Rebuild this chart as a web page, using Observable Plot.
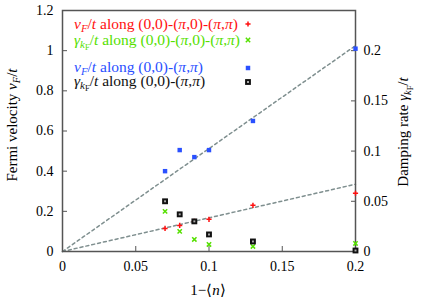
<!DOCTYPE html>
<html><head><meta charset="utf-8">
<script src="https://cdn.jsdelivr.net/npm/d3@7"></script>
<script src="https://cdn.jsdelivr.net/npm/@observablehq/plot@0.6"></script>
<style>body{margin:0;background:#fff}</style>
</head><body><div id="chart"></div>
<script>
const holes = [0.07, 0.08, 0.09, 0.10, 0.13, 0.20];
const vfDiag = [0.40, 0.505, 0.47, 0.505, 0.65, 1.01];      // blue
const vfAnti = [0.115, 0.13, 0.15, 0.16, 0.23, 0.29];       // red
const gammaAnti = [0.040, 0.020, 0.012, 0.007, 0.005, 0.008]; // green
const gammaDiag = [0.050, 0.037, 0.030, 0.017, 0.010, 0.001]; // black
const fitX = [0, 0.2];
const fitDiag = [0, 1.025];
const fitAnti = [0, 0.335];
const xTicks = [0, 0.05, 0.1, 0.15, 0.2];
const yTicks = [0, 0.2, 0.4, 0.6, 0.8, 1, 1.2];
const y2Ticks = [0, 0.05, 0.1, 0.15, 0.2];
const yMax = 1.2, y2Max = 0.24;
const k = yMax / y2Max;

const RED = "#ff1010", GREEN = "#55e000", BLUE = "#2a50ff", BLACK = "#111", GRAY = "#7f8f8f", AX = "#555";

const pts = (ys) => holes.map((x, i) => ({x, y: ys[i]}));
const line = (ys) => fitX.map((x, i) => ({x, y: ys[i]}));

const plot = Plot.plot({
  width: 425, height: 299,
  marginLeft: 62, marginRight: 70, marginTop: 10, marginBottom: 48,
  style: {fontFamily: "'Liberation Serif', 'Times New Roman', serif", fontSize: "14px", background: "#fff", color: "#000"},
  x: {domain: [0, 0.2]},
  y: {domain: [0, yMax]},
  marks: [
    Plot.line(line(fitDiag), {x: "x", y: "y", stroke: GRAY, strokeWidth: 1.5, strokeDasharray: "3,3"}),
    Plot.line(line(fitAnti), {x: "x", y: "y", stroke: GRAY, strokeWidth: 1.5, strokeDasharray: "3,3"}),
    Plot.axisX(xTicks, {tickSize: -5, tickPadding: 15, stroke: AX, fill: "#000", tickFormat: d => String(d), label: null}),
    Plot.axisY(yTicks, {anchor: "left", tickSize: -5, tickPadding: 14, stroke: AX, fill: "#000", tickFormat: d => String(d), label: null}),
    Plot.axisY(y2Ticks.map(v => v * k), {anchor: "right", tickSize: -5, tickPadding: 13, stroke: AX, fill: "#000", tickFormat: d => String(+(d / k).toFixed(3)), label: null}),
    Plot.frame({stroke: AX, strokeWidth: 1.5}),
    Plot.dot(pts(vfDiag), {x: "x", y: "y", symbol: "square", fill: BLUE, r: 2.5}),
    Plot.dot(pts(vfAnti), {x: "x", y: "y", symbol: "plus", stroke: RED, strokeWidth: 1.5, r: 1.8}),
    Plot.dot(pts(gammaAnti), {x: "x", y: d => d.y * k, symbol: "times", stroke: GREEN, strokeWidth: 1.5, r: 2.1}),
    Plot.dot(pts(gammaDiag), {x: "x", y: d => d.y * k, symbol: "square", fill: BLACK, r: 3.3}),
    Plot.dot(pts(gammaDiag), {x: "x", y: d => d.y * k, symbol: "square", fill: "#aaa", r: 1.1})
  ]
});
document.getElementById("chart").appendChild(plot);

const svg = d3.select(plot);
const FONT = "'Liberation Serif', 'Times New Roman', serif";
function rich(g, segs) {
  let cur = 0;
  for (const [t, s] of segs) {
    const off = s === "s" ? 3 : s === "ss" ? 5 : 0;
    const ts = g.append("tspan").text(t).attr("dy", off - cur);
    cur = off;
    if (s === "i" || s === "s") ts.attr("font-style", "italic");
    if (s === "s") ts.attr("font-size", "0.7em");
    if (s === "ss") ts.attr("font-size", "0.55em");
  }
}
const vF = [["v", "i"], ["F", "s"], ["/", "n"], ["t", "i"]];
const gk = [["γ", "i"], ["k", "s"], ["F", "ss"], ["/", "n"], ["t", "i"]];
const path1 = [[" along (0,0)-(", "n"], ["π", "i"], [",0)-(", "n"], ["π", "i"], [",", "n"], ["π", "i"], [")", "n"]];
const path2 = [[" along (0,0)-(", "n"], ["π", "i"], [",", "n"], ["π", "i"], [")", "n"]];
const legend = [
  {y: 29, color: RED, segs: vF.concat(path1)},
  {y: 45, color: GREEN, segs: gk.concat(path1)},
  {y: 72, color: BLUE, segs: vF.concat(path2)},
  {y: 86, color: BLACK, segs: gk.concat(path2)}
];
for (const row of legend) {
  const t = svg.append("text").attr("x", 74).attr("y", row.y).attr("fill", row.color)
    .attr("text-anchor", "start").attr("font-family", FONT).attr("font-size", 15.5);
  rich(t, row.segs);
}
// legend sample symbols
const sym = (type, size) => d3.symbol(type, size)();
svg.append("path").attr("d", sym(d3.symbolPlus, 10)).attr("transform", "translate(248,24)").attr("fill", "none").attr("stroke", RED).attr("stroke-width", 1.5);
svg.append("path").attr("d", sym(d3.symbolTimes, 14)).attr("transform", "translate(248,40)").attr("fill", "none").attr("stroke", GREEN).attr("stroke-width", 1.5);
svg.append("path").attr("d", sym(d3.symbolSquare, 20)).attr("transform", "translate(248,68)").attr("fill", BLUE);
svg.append("path").attr("d", sym(d3.symbolSquare, 34)).attr("transform", "translate(248,82)").attr("fill", BLACK);
svg.append("path").attr("d", sym(d3.symbolSquare, 4)).attr("transform", "translate(248,82)").attr("fill", "#aaa");

// axis titles
const lt = svg.append("text").attr("transform", "translate(17,125) rotate(-90)").attr("text-anchor", "middle")
  .attr("font-family", FONT).attr("font-size", 15).attr("fill", "#000");
rich(lt, [["Fermi velocity ", "n"], ["v", "i"], ["F", "s"], ["/", "n"], ["t", "i"]]);
const rt = svg.append("text").attr("transform", "translate(408,132) rotate(-90)").attr("text-anchor", "middle")
  .attr("font-family", FONT).attr("font-size", 15).attr("fill", "#000");
rich(rt, [["Damping rate ", "n"]].concat(gk));
const bt = svg.append("text").attr("x", 208).attr("y", 295).attr("text-anchor", "middle")
  .attr("font-family", FONT).attr("font-size", 15).attr("fill", "#000");
rich(bt, [["1−⟨", "n"], ["n", "i"], ["⟩", "n"]]);
</script>
</body></html>
